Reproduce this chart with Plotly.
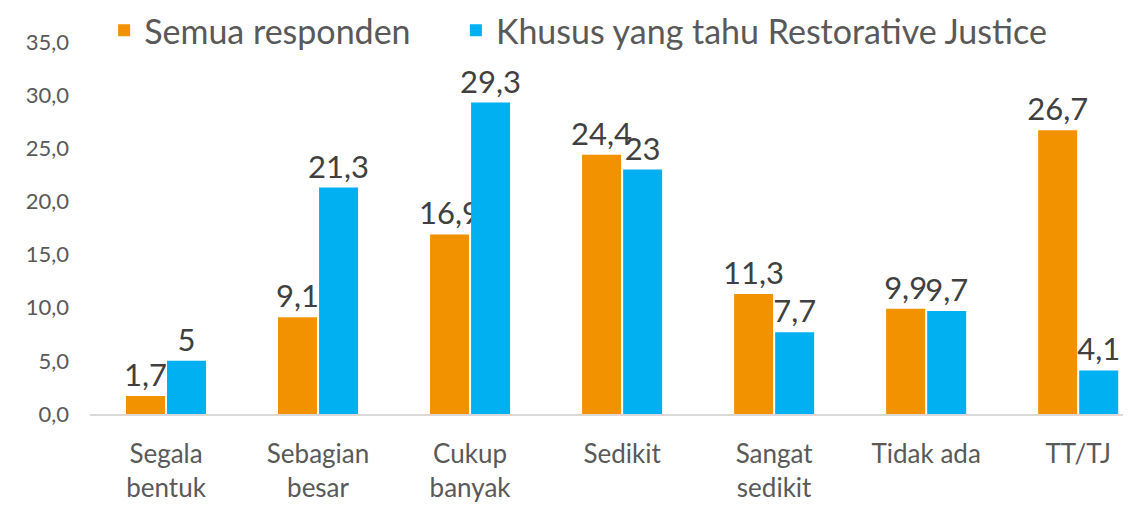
import plotly.graph_objects as go

categories = ["Segala<br>bentuk", "Sebagian<br>besar", "Cukup<br>banyak", "Sedikit",
              "Sangat<br>sedikit", "Tidak ada", "TT/TJ"]
semua = [1.7, 9.1, 16.9, 24.4, 11.3, 9.9, 26.7]
khusus = [5, 21.3, 29.3, 23, 7.7, 9.7, 4.1]
series_names = ["Semua responden", "Khusus yang tahu Restorative Justice"]
y_ticks = [0, 5, 10, 15, 20, 25, 30, 35]

FONT = "Lato"
GRAY = "#595959"

def lab(vals):
    return [f"{v:g}".replace(".", ",") for v in vals]

fig = go.Figure()
fig.add_trace(go.Bar(x=categories, y=semua, name=series_names[0],
                     marker=dict(color="#F39200"),
                     text=lab(semua), textposition="outside",
                     textfont=dict(size=31, color="#404040", family=FONT),
                     constraintext="none", cliponaxis=False, legend="legend"))
fig.add_trace(go.Bar(x=categories, y=khusus, name=series_names[1],
                     marker=dict(color="#00B0F0"),
                     text=lab(khusus), textposition="outside",
                     textfont=dict(size=31, color="#404040", family=FONT),
                     constraintext="none", cliponaxis=False, legend="legend2"))

legend_common = dict(orientation="h", xref="container", yref="container",
                     yanchor="middle", xanchor="left", y=0.955,
                     font=dict(size=34, color=GRAY, family=FONT),
                     itemwidth=30, bgcolor="rgba(0,0,0,0)", borderwidth=0)

fig.update_layout(
    width=1131, height=505,
    margin=dict(l=82, r=0, t=34, b=99, autoexpand=False),
    paper_bgcolor="white", plot_bgcolor="white",
    barmode="group", bargap=0.46, bargroupgap=0.05,
    separators=",.",
    font=dict(family=FONT, color=GRAY),
    showlegend=True,
    legend=dict(x=0.085, **legend_common),
    legend2=dict(x=0.396, **legend_common),
    xaxis=dict(range=[-0.5, 6.40], showline=True, linecolor="#D9D9D9", linewidth=2,
               ticks="", tickfont=dict(size=26, color=GRAY, family=FONT),
               ticklabelstandoff=16, showgrid=False),
    yaxis=dict(range=[0, 35], tickvals=y_ticks, tickformat=".1f", showgrid=False,
               zeroline=False, showline=False, ticks="", ticklabelstandoff=20,
               tickfont=dict(size=22, color=GRAY, family=FONT)),
)
fig.update_traces(marker_line_width=0)
fig.write_html("out.html")
